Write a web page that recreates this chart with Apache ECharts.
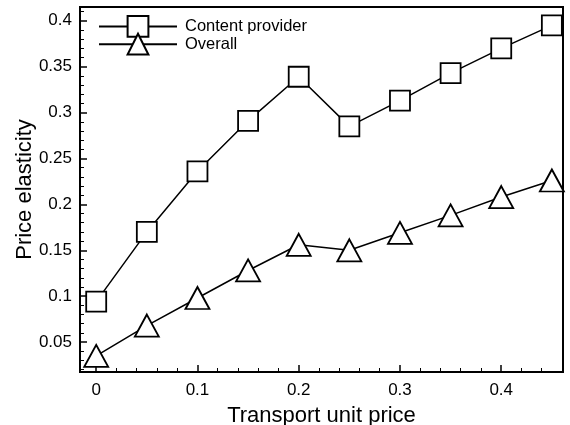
<!DOCTYPE html>
<html>
<head>
<meta charset="utf-8">
<script src="https://cdn.jsdelivr.net/npm/echarts@6/dist/echarts.min.js"></script>
<style>
  html, body { margin: 0; padding: 0; background: #fff; }
  #chart { width: 570px; height: 425px; }
</style>
</head>
<body>
<div id="chart"></div>
<script>
const xValues = [0, 0.05, 0.1, 0.15, 0.2, 0.25, 0.3, 0.35, 0.4, 0.45]
const contentProvider = [0.094, 0.170, 0.236, 0.291, 0.339, 0.285, 0.313, 0.343, 0.370, 0.395]
const overall = [0.035, 0.068, 0.098, 0.128, 0.156, 0.150, 0.169, 0.188, 0.208, 0.226]
const xMajorTicks = [0, 0.1, 0.2, 0.3, 0.4]
const xMinorTicks = [0.02, 0.04, 0.06, 0.08, 0.12, 0.14, 0.16, 0.18, 0.22, 0.24, 0.26, 0.28,
  0.32, 0.34, 0.36, 0.38, 0.42, 0.44, 0.46]
const yMajorTicks = [0.05, 0.1, 0.15, 0.2, 0.25, 0.3, 0.35, 0.4]
const yMinorTicks = [0.02, 0.03, 0.04, 0.06, 0.07, 0.08, 0.09, 0.11, 0.12, 0.13, 0.14,
  0.16, 0.17, 0.18, 0.19, 0.21, 0.22, 0.23, 0.24, 0.26, 0.27, 0.28, 0.29,
  0.31, 0.32, 0.33, 0.34, 0.36, 0.37, 0.38, 0.39, 0.41]

const font = 'Liberation Sans, Arial, Helvetica, sans-serif'
const xMin = -0.016, xMax = 0.461
const yMin = 0.0174, yMax = 0.415

const chart = echarts.init(document.getElementById('chart'))

function pairs(ys) {
  return xValues.map((x, i) => [x, ys[i]])
}

chart.setOption({
  animation: false,
  grid: {
    left: 80, right: 7, top: 7, bottom: 53,
    outerBoundsMode: 'none',
    show: true, borderColor: '#000', borderWidth: 2
  },
  legend: {
    orient: 'vertical',
    left: 93, top: 10,
    itemWidth: 78, itemHeight: 26, itemGap: -5,
    textStyle: { fontFamily: font, fontSize: 16.5, color: '#000', padding: [0, 0, 0, 3] },
    data: ['Content provider', 'Overall']
  },
  xAxis: [
    {
      type: 'value', position: 'bottom', min: xMin, max: xMax,
      name: 'Transport unit price', nameLocation: 'middle', nameGap: 33, nameMoveOverlap: false,
      nameTextStyle: { fontFamily: font, fontSize: 22, color: '#000' },
      axisLine: { onZero: false, lineStyle: { color: '#000', width: 2 } },
      axisTick: { inside: true, length: 7, lineStyle: { color: '#000', width: 1.5 }, customValues: xMajorTicks },
      axisLabel: { fontFamily: font, fontSize: 17, color: '#000', margin: 10, customValues: xMajorTicks },
      splitLine: { show: false }
    },
    {
      type: 'value', position: 'bottom', min: xMin, max: xMax,
      axisLine: { show: false, onZero: false },
      axisTick: { inside: true, length: 4, lineStyle: { color: '#000', width: 1 }, customValues: xMinorTicks },
      axisLabel: { show: false },
      splitLine: { show: false }
    }
  ],
  yAxis: [
    {
      type: 'value', position: 'left', min: yMin, max: yMax,
      name: 'Price elasticity', nameLocation: 'middle', nameGap: 44, nameMoveOverlap: false,
      nameTextStyle: { fontFamily: font, fontSize: 22, color: '#000' },
      axisLine: { onZero: false, lineStyle: { color: '#000', width: 2 } },
      axisTick: { inside: true, length: 7, lineStyle: { color: '#000', width: 1.5 }, customValues: yMajorTicks },
      axisLabel: { fontFamily: font, fontSize: 17, color: '#000', margin: 8, customValues: yMajorTicks },
      splitLine: { show: false }
    },
    {
      type: 'value', position: 'left', min: yMin, max: yMax,
      axisLine: { show: false, onZero: false },
      axisTick: { inside: true, length: 4, lineStyle: { color: '#000', width: 1 }, customValues: yMinorTicks },
      axisLabel: { show: false },
      splitLine: { show: false }
    }
  ],
  series: [
    {
      name: 'Content provider',
      type: 'line',
      data: pairs(contentProvider),
      symbol: 'rect',
      symbolSize: 20,
      lineStyle: { color: '#000', width: 1.5 },
      itemStyle: { color: '#fff', borderColor: '#000', borderWidth: 1.8 },
      z: 3
    },
    {
      name: 'Overall',
      type: 'line',
      data: pairs(overall),
      symbol: 'triangle',
      symbolSize: [24, 22],
      lineStyle: { color: '#000', width: 1.5 },
      itemStyle: { color: '#fff', borderColor: '#000', borderWidth: 1.8 },
      z: 3
    }
  ]
})
</script>
</body>
</html>
